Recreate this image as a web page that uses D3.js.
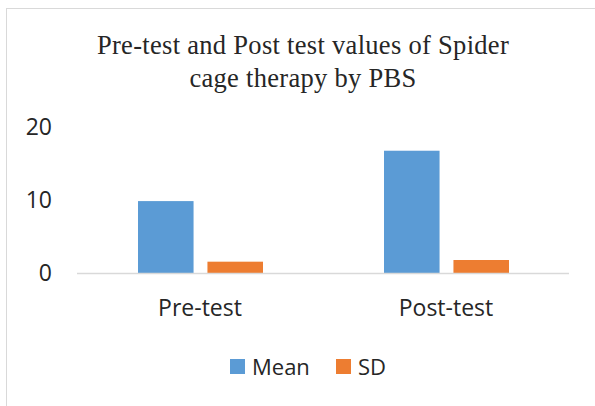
<!DOCTYPE html>
<html>
<head>
<meta charset="utf-8">
<script src="https://cdn.jsdelivr.net/npm/d3@7"></script>
<style>
  body { margin: 0; background: #fff; }
</style>
</head>
<body>
<script>
  let categories = ["Pre-test", "Post-test"];
  let seriesNames = ["Mean", "SD"];
  let meanValues = [9.85, 16.75];
  let sdValues = [1.55, 1.78];
  let yTicks = [0, 10, 20];
  let colors = ["#5B9BD5", "#ED7D31"];

  let rows = categories.map((c, i) => ({cat: c, vals: [meanValues[i], sdValues[i]]}));

  let svg = d3.select("body").append("svg")
    .attr("width", 595)
    .attr("height", 406)

  // chart frame
  svg.append("rect")
    .attr("x", 6.5).attr("y", 8.5)
    .attr("width", 620).attr("height", 420)
    .attr("fill", "none")
    .attr("stroke", "#d9d9d9")

  // title
  let title = svg.append("text")
    .attr("text-anchor", "middle")
    .attr("font-family", "Liberation Serif")
    .attr("font-size", 26.5)
    .attr("letter-spacing", 0.3)
    .attr("fill", "#262626")
  title.append("tspan").attr("x", 303).attr("y", 54).text("Pre-test and Post test values of Spider")
  title.append("tspan").attr("x", 303).attr("y", 87).text("cage therapy by PBS")

  let x = d3.scaleBand().domain(categories).range([77, 569])
  let x1 = d3.scaleBand().domain(seriesNames).range([61, 186]).paddingInner(0.2)
  let y = d3.scaleLinear().domain([0, 20]).range([273, 127])

  // y labels
  svg.append("g").selectAll("text").data(yTicks).enter()
    .append("text")
    .attr("x", 52)
    .attr("y", d => y(d))
    .attr("dy", "0.35em")
    .attr("text-anchor", "end")
    .attr("font-family", "Open Sans")
    .attr("font-size", 23)
    .attr("fill", "#262626")
    .text(d => d)

  // bars
  let groups = svg.append("g").selectAll("g").data(rows).enter()
    .append("g")
    .attr("transform", d => "translate(" + x(d.cat) + ",0)")

  groups.selectAll("rect").data(d => d.vals).enter()
    .append("rect")
    .attr("x", (d, i) => x1(seriesNames[i]))
    .attr("y", d => y(d))
    .attr("width", x1.bandwidth())
    .attr("height", d => y(0) - y(d))
    .attr("fill", (d, i) => colors[i])

  // baseline
  svg.append("line")
    .attr("x1", 77).attr("x2", 569)
    .attr("y1", 273.5).attr("y2", 273.5)
    .attr("stroke", "#d9d9d9")
    .attr("stroke-width", 1.5)

  // category labels
  svg.append("g").selectAll("text").data(categories).enter()
    .append("text")
    .attr("x", d => x(d) + x.bandwidth() / 2)
    .attr("y", 308)
    .attr("dy", "0.35em")
    .attr("text-anchor", "middle")
    .attr("font-family", "Open Sans")
    .attr("font-size", 23)
    .attr("fill", "#262626")
    .text(d => d)

  // legend
  let legendX = [230, 336];
  let legend = svg.append("g").selectAll("g").data(seriesNames).enter()
    .append("g")
    .attr("transform", (d, i) => "translate(" + legendX[i] + ",359)")
  legend.append("rect")
    .attr("width", 15).attr("height", 15)
    .attr("fill", (d, i) => colors[i])
  legend.append("text")
    .attr("x", 22)
    .attr("y", 8)
    .attr("dy", "0.35em")
    .attr("font-family", "Open Sans")
    .attr("font-size", 22)
    .attr("fill", "#262626")
    .text(d => d)
</script>
</body>
</html>
